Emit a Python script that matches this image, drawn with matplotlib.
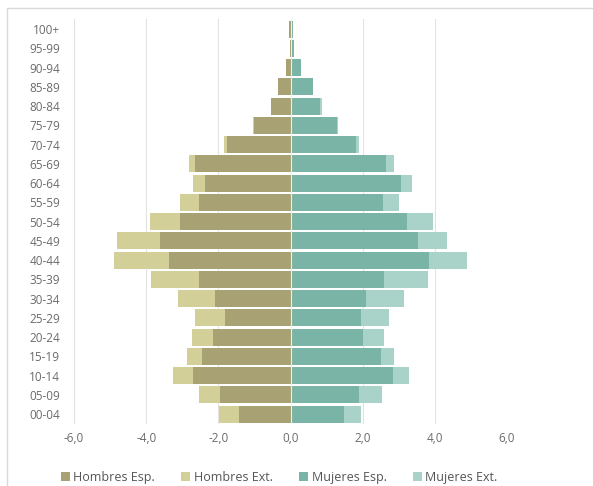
import matplotlib
matplotlib.use("Agg")
import matplotlib.pyplot as plt
from matplotlib.patches import Rectangle

# age groups, top to bottom
ages = ["100+", "95-99", "90-94", "85-89", "80-84", "75-79", "70-74", "65-69",
        "60-64", "55-59", "50-54", "45-49", "40-44", "35-39", "30-34", "25-29",
        "20-24", "15-19", "10-14", "05-09", "00-04"]

hombres_esp = [0.03, 0.02, 0.12, 0.34, 0.55, 1.00, 1.77, 2.64, 2.36, 2.54, 3.07,
               3.62, 3.36, 2.54, 2.10, 1.82, 2.14, 2.45, 2.71, 1.96, 1.44]
hombres_ext = [0.00, 0.00, 0.00, 0.00, 0.00, 0.03, 0.08, 0.17, 0.35, 0.53, 0.82,
               1.18, 1.53, 1.34, 1.01, 0.84, 0.58, 0.43, 0.55, 0.57, 0.55]
mujeres_esp = [0.07, 0.10, 0.30, 0.63, 0.81, 1.29, 1.82, 2.65, 3.05, 2.57, 3.23,
               3.54, 3.85, 2.58, 2.10, 1.94, 2.01, 2.51, 2.83, 1.89, 1.48]
mujeres_ext = [0.00, 0.00, 0.00, 0.00, 0.07, 0.03, 0.09, 0.23, 0.32, 0.43, 0.72,
               0.81, 1.05, 1.22, 1.04, 0.80, 0.57, 0.36, 0.45, 0.65, 0.46]

x_ticks = [-6, -4, -2, 0, 2, 4, 6]
x_tick_labels = ["-6,0", "-4,0", "-2,0", "0,0", "2,0", "4,0", "6,0"]

C_HE = "#a7a173"
C_HX = "#d3cf99"
C_ME = "#7ab4a6"
C_MX = "#a9d2c8"
TXT = "#6b6b6b"

fig = plt.figure(figsize=(5.93, 4.86), dpi=100)
ax = fig.add_axes([0.1248, 0.128, 0.7302, 0.832])

y = list(range(len(ages)))
h = 0.88
neg_esp = [-v for v in hombres_esp]
neg_ext = [-v for v in hombres_ext]

ax.barh(y, neg_esp, height=h, color=C_HE, label="Hombres Esp.", zorder=2)
ax.barh(y, neg_ext, left=neg_esp, height=h, color=C_HX, label="Hombres Ext.", zorder=2)
ax.barh(y, mujeres_esp, height=h, color=C_ME, label="Mujeres Esp.", zorder=2)
ax.barh(y, mujeres_ext, left=mujeres_esp, height=h, color=C_MX, label="Mujeres Ext.", zorder=2)
ax.axvline(0, color="#f2f0dc", lw=0.8, zorder=3)

ax.set_xlim(-6, 6)
ax.set_ylim(len(ages) - 0.5, -0.5)
ax.set_yticks(y)
ax.set_yticklabels(ages)
ax.set_xticks(x_ticks)
ax.set_xticklabels(x_tick_labels)
ax.tick_params(length=0, labelsize=8.5, colors=TXT, labelfontfamily="Open Sans")
ax.tick_params(axis="x", pad=6)
ax.tick_params(axis="y", pad=10)
for s in ax.spines.values():
    s.set_visible(False)
ax.xaxis.grid(True, color="#e3e3e3", lw=0.8, zorder=0)
ax.set_axisbelow(True)

leg = fig.legend(loc="center", bbox_to_anchor=(0.471, 0.018), ncol=4, frameon=False,
                 handlelength=0.7, handleheight=0.7, handletextpad=0.3,
                 columnspacing=2.1, prop={"family": "Open Sans", "size": 9})
for t in leg.get_texts():
    t.set_color("#555555")

fig.patches.append(Rectangle((0.012, -0.01), 0.99, 0.994, transform=fig.transFigure,
                             fill=False, edgecolor="#d9d9d9", lw=1.0))

fig.savefig("out.png", dpi=100)
